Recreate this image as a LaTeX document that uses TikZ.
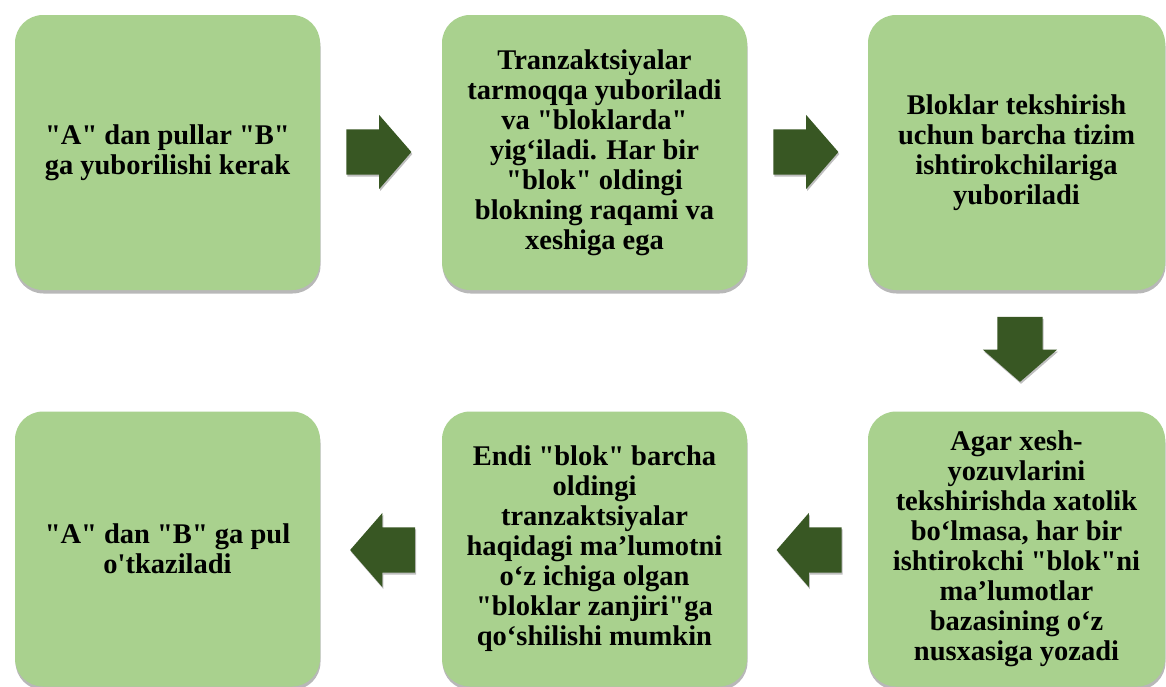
\documentclass[tikz,border=0pt]{standalone}
\usepackage{fontspec}
\setmainfont{Liberation Serif}[Ligatures=TeXOff]
\usetikzlibrary{shapes.arrows,shadows}
\definecolor{boxgreen}{HTML}{A9D18E}
\definecolor{arrgreen}{HTML}{385723}
\begin{document}
\begin{tikzpicture}[x=1pt,y=-1pt,
  stepbox/.style={draw=none, fill=boxgreen, rounded corners=28pt,
    minimum width=305pt, minimum height=275pt, align=center, inner sep=0pt,
    font=\fontsize{28.5}{30}\selectfont\bfseries,
    drop shadow={shadow xshift=0.5pt, shadow yshift=-3.5pt, fill=black, opacity=0.28}},
  blockarrow/.style={single arrow, fill=arrgreen, draw=none,
    inner xsep=0pt, inner ysep=22.5pt,
    minimum width=0pt, minimum height=65pt, single arrow head extend=14.5pt,
    single arrow tip angle=98,
    drop shadow={shadow xshift=1pt, shadow yshift=-2pt, fill=black, opacity=0.25}}]
\useasboundingbox (0,0) rectangle (1166,686);
\fill[white] (0,0) rectangle (1166,686);
\node[stepbox] (b1) at (167.5,152.5) {"A" dan pullar "B"\\ga yuborilishi kerak};
\node[stepbox] (b2) at (594.5,152.5) {Tranzaktsiyalar\\tarmoqqa yuboriladi\\va "bloklarda"\\yig‘iladi. Har bir\\"blok" oldingi\\blokning raqami va\\xeshiga ega};
\node[stepbox, minimum width=297pt] (b3) at (1016.5,152.5) {Bloklar tekshirish\\uchun barcha tizim\\ishtirokchilariga\\yuboriladi};
\node[stepbox, minimum width=297pt] (b4) at (1016.5,549) {Agar xesh-\\yozuvlarini\\tekshirishda xatolik\\bo‘lmasa, har bir\\ishtirokchi "blok"ni\\ma’lumotlar\\bazasining o‘z\\nusxasiga yozadi};
\node[stepbox] (b5) at (594.5,549) {Endi "blok" barcha\\oldingi\\tranzaktsiyalar\\haqidagi ma’lumotni\\o‘z ichiga olgan\\"bloklar zanjiri"ga\\qo‘shilishi mumkin};
\node[stepbox] (b6) at (167.5,549) {"A" dan "B" ga pul\\o'tkaziladi};
\node[blockarrow] (a1) at (369,152) {};
\node[blockarrow] (a2) at (796,152) {};
\node[blockarrow, rotate=-90] (a3) at (1020,339.5) {};
\node[blockarrow, rotate=180] (a4) at (819,550) {};
\node[blockarrow, rotate=180] (a5) at (392.5,550) {};
\end{tikzpicture}
\end{document}
